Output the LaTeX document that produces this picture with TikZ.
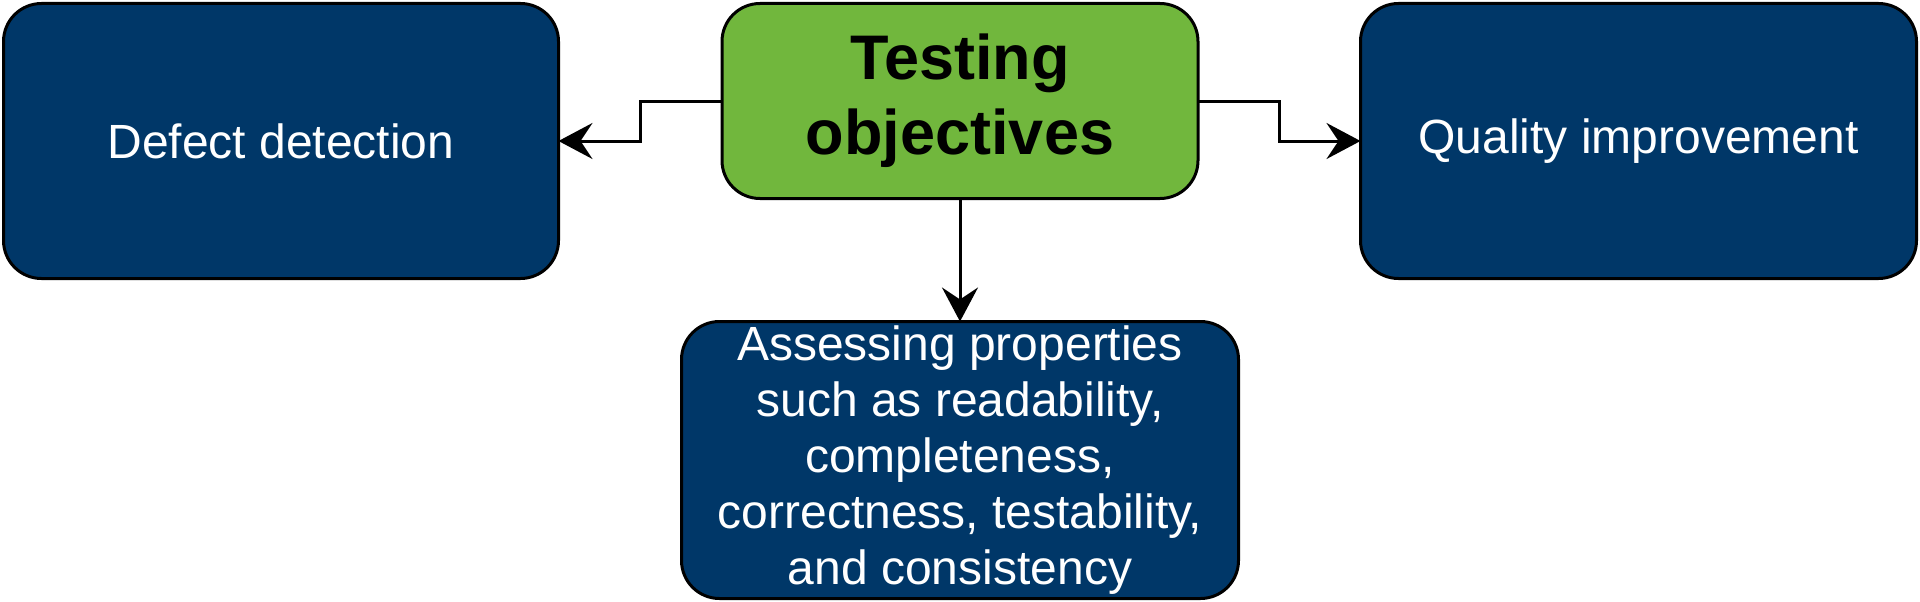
\documentclass[tikz,border=0pt]{standalone}
\usepackage{fontspec}
\setmainfont{Liberation Sans}
\usetikzlibrary{arrows.meta}
\usetikzlibrary{calc}
\definecolor{navy}{HTML}{003768}
\definecolor{leaf}{HTML}{71B73D}
\tikzset{goal/.style = {draw, line width = 3pt, rounded corners = 38pt, fill = navy, text = white, inner sep = 0, outer sep = 0, align = center, font = \fontsize{48}{56}\selectfont}}
\tikzset{topic/.style = {goal, fill = leaf, text = black, font = \fontsize{63}{75}\selectfont\bfseries}}
\tikzset{link/.style = {line width = 3pt, -{Stealth[length = 34pt, width = 36pt, inset = 12pt]}}}

\begin{document}
\begin{tikzpicture}[x = 1pt, y = -1pt]
    \useasboundingbox (0, 0) rectangle (1920, 602);
    \node [topic, minimum width = 476, minimum height = 195] (objectives) at (960, 101) {Testing\\objectives};
    \node [goal, minimum width = 555, minimum height = 275] (defect) at (281, 141) {Defect detection};
    \node [goal, minimum width = 556, minimum height = 275] (quality) at (1638.5, 141) {Quality improvement};
    \node [goal, minimum width = 557, minimum height = 277] (assess) at (960, 460) {Assessing properties\\such as readability,\\completeness,\\correctness, testability,\\and consistency};
    \draw [link] (objectives.west) -| ($(objectives.west)!0.5!(defect.east)$) |- (defect.east);
    \draw [link] (objectives.east) -| ($(objectives.east)!0.5!(quality.west)$) |- (quality.west);
    \draw [link] (objectives.south) -- (assess.north);
  \end{tikzpicture}
\end{document}
